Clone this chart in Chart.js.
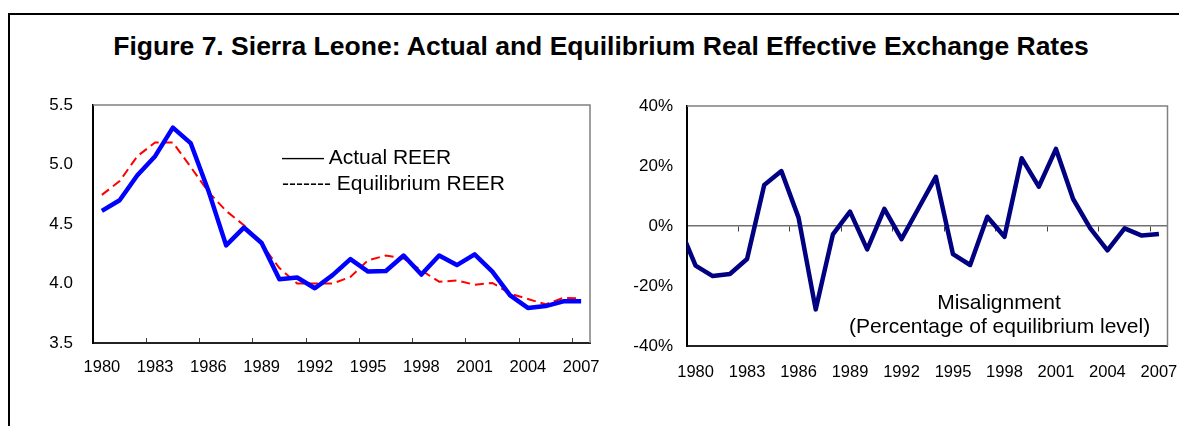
<!DOCTYPE html>
<html>
<head>
<meta charset="utf-8">
<script src="https://cdn.jsdelivr.net/npm/chart.js@4.4.1/dist/chart.umd.min.js"></script>
<style>
  body { margin: 0; width: 1179px; height: 426px; background: #fff; overflow: hidden; position: relative;
         font-family: "Liberation Sans", Arial, sans-serif; color: #000; }
  #frame { position: absolute; left: 8px; top: 13px; width: 1300px; height: 500px;
           border-top: 2px solid #000; border-left: 2px solid #000; }
  .txt { position: absolute; white-space: pre; }
  #title { left: 0; width: 1202px; top: 33px; text-align: center; font-weight: bold; font-size: 26.5px; line-height: 26px; }
  .big { font-size: 21px; line-height: 21px; }
  .note { left: 849px; width: 300px; text-align: center; }
  canvas { position: absolute; }
</style>
</head>
<body>
<div id="frame"></div>
<div id="title" class="txt">Figure 7. Sierra Leone: Actual and Equilibrium Real Effective Exchange Rates</div>

<canvas id="reerChart" width="600" height="300" style="left:0;top:90px"></canvas>
<canvas id="misChart" width="579" height="300" style="left:600px;top:90px"></canvas>

<div class="txt big" style="left:282px;top:146px">—— Actual REER</div>
<div class="txt big" style="left:282px;top:172px">------- Equilibrium REER</div>
<div class="txt big note" style="top:291px">Misalignment</div>
<div class="txt big note" style="top:315px">(Percentage of equilibrium level)</div>

<script>
// Data
const years = ["1980", "1981", "1982", "1983", "1984", "1985", "1986", "1987", "1988", "1989",
  "1990", "1991", "1992", "1993", "1994", "1995", "1996", "1997", "1998", "1999",
  "2000", "2001", "2002", "2003", "2004", "2005", "2006", "2007"];
const actualReer = [4.61, 4.70, 4.91, 5.07, 5.31, 5.18, 4.78, 4.32, 4.47, 4.34,
  4.035, 4.05, 3.96, 4.07, 4.205, 4.10, 4.105, 4.235, 4.075, 4.235,
  4.155, 4.245, 4.10, 3.90, 3.795, 3.81, 3.85, 3.85];
const equilibriumReer = [4.745, 4.86, 5.07, 5.185, 5.185, 4.98, 4.77, 4.61, 4.49, 4.33,
  4.13, 4.0, 4.0, 4.0, 4.055, 4.195, 4.235, 4.21, 4.11, 4.015,
  4.025, 3.99, 4.005, 3.915, 3.87, 3.825, 3.88, 3.875];

// misalignment line enters from the left edge, so it keeps one earlier year
const misYears = ["1979", "1980", "1981", "1982", "1983", "1984", "1985", "1986", "1987", "1988", "1989",
  "1990", "1991", "1992", "1993", "1994", "1995", "1996", "1997", "1998", "1999",
  "2000", "2001", "2002", "2003", "2004", "2005", "2006", "2007"];
const misalignment = [0.5, -13.2, -16.7, -16.0, -11.0, 13.7, 18.3, 2.8, -27.8, -2.8, 4.8,
  -7.8, 5.7, -4.4, 6.0, 16.4, -9.4, -13.0, 3.1, -3.6, 22.6,
  13.1, 25.7, 9.0, -0.8, -8.1, -0.8, -3.2, -2.7];

const reerTicks = [3.5, 4.0, 4.5, 5.0, 5.5];
const misTicks = [-40, -20, 0, 20, 40];

Chart.defaults.font.family = '"Liberation Sans", Arial, sans-serif';
Chart.defaults.color = "#000";

// gray top and right edges of each plot area
const plotFrame = {
  id: "plotFrame",
  beforeDatasetsDraw(chart) {
    const { ctx, chartArea: a } = chart;
    ctx.save();
    ctx.strokeStyle = "#808080";
    ctx.lineWidth = 1.5;
    ctx.beginPath();
    ctx.moveTo(a.left, a.top);
    ctx.lineTo(a.right, a.top);
    ctx.lineTo(a.right, a.bottom);
    ctx.stroke();
    ctx.restore();
  },
};

// tick marks only at every third category boundary
function everyThird(ctx) {
  return ctx.index !== undefined && ctx.index % 3 === 0 ? "#404040" : "rgba(0,0,0,0)";
}

// fixed axis sizes so the plot areas land where the reference has them
function fixSize(w, h) {
  return (s) => {
    if (w !== null) s.width = w;
    if (h !== null) s.height = h;
    s.paddingLeft = 0;
    s.paddingRight = 0;
    s.paddingTop = 0;
    s.paddingBottom = 0;
  };
}

// Left panel: actual vs equilibrium REER
new Chart(document.getElementById("reerChart"), {
  type: "line",
  data: {
    labels: years,
    datasets: [
      {
        label: "Actual REER",
        data: actualReer,
        borderColor: "#0000ff",
        borderWidth: 4.5,
        pointRadius: 0,
        tension: 0,
        borderJoinStyle: "round",
      },
      {
        label: "Equilibrium REER",
        data: equilibriumReer,
        borderColor: "#ff0000",
        borderWidth: 2,
        borderDash: [9, 5],
        pointRadius: 0,
        tension: 0,
      },
    ],
  },
  options: {
    responsive: false,
    animation: false,
    devicePixelRatio: 1,
    layout: { padding: { top: 15, right: 10, left: 0, bottom: 0 } },
    plugins: { legend: { display: false }, tooltip: { enabled: false } },
    scales: {
      x: {
        offset: true,
        afterFit: fixSize(null, 47),
        grid: {
          offset: true,
          drawOnChartArea: false,
          drawTicks: true,
          tickLength: -5,
          color: everyThird,
          tickColor: everyThird,
        },
        border: { color: "#222", width: 2 },
        ticks: {
          autoSkip: false,
          maxRotation: 0,
          minRotation: 0,
          padding: 20,
          font: { size: 16.5 },
          callback: function (value, index) {
            return index % 3 === 0 ? this.getLabelForValue(value) : "";
          },
        },
      },
      y: {
        min: reerTicks[0],
        max: reerTicks[reerTicks.length - 1],
        afterFit: fixSize(93, null),
        grid: { display: false, drawTicks: false },
        border: { color: "#000", width: 2 },
        ticks: {
          stepSize: 0.5,
          padding: 20,
          font: { size: 17 },
          callback: (v) => v.toFixed(1),
        },
      },
    },
  },
  plugins: [plotFrame],
});

// Right panel: misalignment
new Chart(document.getElementById("misChart"), {
  type: "line",
  data: {
    labels: misYears,
    datasets: [
      {
        label: "Misalignment",
        data: misalignment,
        borderColor: "#000080",
        borderWidth: 4.5,
        pointRadius: 0,
        tension: 0,
        borderJoinStyle: "round",
        clip: 0,
      },
    ],
  },
  options: {
    responsive: false,
    animation: false,
    devicePixelRatio: 1,
    layout: { padding: { top: 16, right: 11.5, left: 0, bottom: 0 } },
    plugins: { legend: { display: false }, tooltip: { enabled: false } },
    scales: {
      x: {
        min: "1980",
        offset: true,
        afterFit: fixSize(null, 44),
        grid: { display: false, drawTicks: false },
        border: { color: "#222", width: 2 },
        ticks: {
          autoSkip: false,
          maxRotation: 0,
          minRotation: 0,
          padding: 17,
          font: { size: 16.5 },
          callback: function (value, index) {
            return index % 3 === 0 ? this.getLabelForValue(value) : "";
          },
        },
      },
      // zero line with tick marks hanging below it
      x2: {
        type: "category",
        labels: misYears,
        min: "1980",
        offset: true,
        position: { y: 0 },
        afterFit: fixSize(null, 0),
        grid: {
          offset: true,
          drawOnChartArea: false,
          drawTicks: true,
          tickLength: 5,
          color: everyThird,
          tickColor: everyThird,
        },
        border: { color: "#707070", width: 1.5 },
        ticks: { display: false },
      },
      y: {
        min: misTicks[0],
        max: misTicks[misTicks.length - 1],
        afterFit: fixSize(87, null),
        grid: { display: false, drawTicks: false },
        border: { color: "#000", width: 2 },
        ticks: {
          stepSize: 20,
          padding: 14,
          font: { size: 17 },
          callback: (v) => v + "%",
        },
      },
    },
  },
  plugins: [plotFrame],
});
</script>
</body>
</html>
